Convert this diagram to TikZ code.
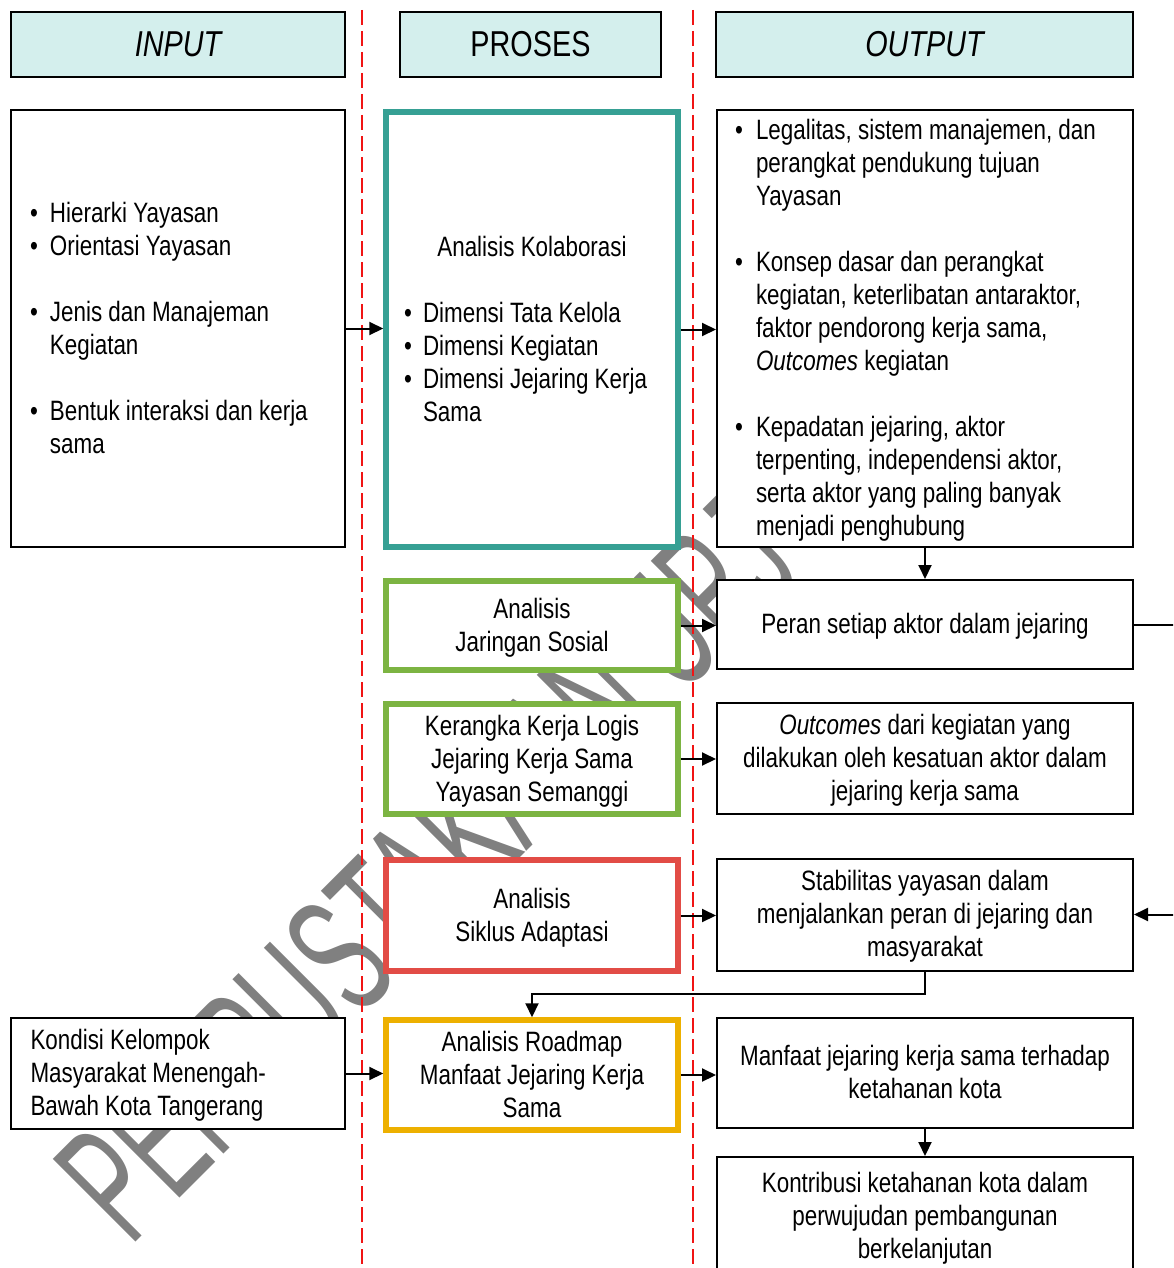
\documentclass[tikz,border=0pt]{standalone}
\usepackage{fontspec}
\setmainfont{Liberation Sans}[FakeStretch=0.8]
\newfontfamily\wmfont{Liberation Sans}[FakeStretch=0.55]
\usepackage{array}
\usetikzlibrary{arrows.meta,calc}
\definecolor{hdrfill}{RGB}{212,239,237}
\definecolor{tealc}{RGB}{54,160,148}
\definecolor{greenc}{RGB}{124,180,66}
\definecolor{redc}{RGB}{226,76,70}
\definecolor{yellowc}{RGB}{237,176,0}
\definecolor{dashred}{RGB}{240,20,20}
\definecolor{wmgray}{RGB}{128,128,128}
\newcommand{\ts}{\rule{0pt}{14.2pt}}
\newcommand{\bu}{\textbullet}
\begin{document}
\begin{tikzpicture}[x=0.5pt, y=-0.5pt,
  font=\fontsize{14}{16.5}\selectfont,
  box/.style={draw=black, line width=1pt, fill=white, inner sep=0pt, align=center},
  hdr/.style={draw=black, line width=1pt, fill=hdrfill, inner sep=0pt, minimum height=32.5pt, font=\fontsize{18}{21}\selectfont},
  pbox/.style={line width=2.75pt, fill=white, inner sep=0pt, minimum width=146pt, align=center},
  arr/.style={line width=1pt, -{Triangle[length=7pt,width=6.5pt]}},
  divider/.style={draw=dashred, line width=1pt, dash pattern=on 7.5pt off 3pt},
  wm/.style={anchor=base, rotate=45, inner sep=0pt, text=wmgray, font=\wmfont\fontsize{85}{85}\selectfont}]
\useasboundingbox (0,0) rectangle (1173,1268);
\clip (0,0) rectangle (1173,1268);

% watermark
\node[wm] (wm) at (468,910) {PERPUSTAKAAN UPJ};

% dividers
\draw[divider] (362,10) -- (362,1280);
\draw[divider] (693,10) -- (693,1280);

% headers
\node[hdr, minimum width=167pt] (hin) at (178,44.5) {\itshape INPUT};
\node[hdr, minimum width=130.5pt] (hpr) at (530.5,44.5) {PROSES};
\node[hdr, minimum width=208.5pt] (hout) at (924.5,44.5) {\itshape OUTPUT};

% row 1
\node[box, minimum width=167pt, minimum height=218.5pt] (in1) at (178,328.5) {%
\begin{tabular}{@{}p{10pt}@{}p{138pt}@{}}
\ts\bu & Hierarki Yayasan\\
\bu & Orientasi Yayasan\\
 & \\
\bu & Jenis dan Manajeman\\
 & Kegiatan\\
 & \\
\bu & Bentuk interaksi dan kerja\\
 & sama
\end{tabular}};

\node[pbox, draw=tealc, minimum height=217.5pt] (teal) at (532,329.5) {%
\begin{tabular}{@{}p{9.5pt}@{}p{118.5pt}@{}}
\multicolumn{2}{@{}c@{}}{\ts Analisis Kolaborasi}\\
 & \\
\bu & Dimensi Tata Kelola\\
\bu & Dimensi Kegiatan\\
\bu & Dimensi Jejaring Kerja\\
 & Sama
\end{tabular}};

\node[box, minimum width=208pt, minimum height=218.5pt] (out1) at (925,328.5) {%
\begin{tabular}{@{}p{10.5pt}@{}p{179.5pt}@{}}
\ts\bu & Legalitas, sistem manajemen, dan\\
 & perangkat pendukung tujuan\\
 & Yayasan\\
 & \\
\bu & Konsep dasar dan perangkat\\
 & kegiatan, keterlibatan antaraktor,\\
 & faktor pendorong kerja sama,\\
 & \textit{Outcomes} kegiatan\\
 & \\
\bu & Kepadatan jejaring, aktor\\
 & terpenting, independensi aktor,\\
 & serta aktor yang paling banyak\\
 & menjadi penghubung
\end{tabular}};

% row 2
\node[pbox, draw=greenc, minimum height=44.5pt] (g1) at (532,625.5) {%
\begin{tabular}{@{}c@{}}\ts Analisis\\ Jaringan Sosial\end{tabular}};
\node[box, minimum width=208pt, minimum height=44.5pt] (peran) at (925,624.5) {%
\begin{tabular}{@{}c@{}}\ts Peran setiap aktor dalam jejaring\end{tabular}};

% row 3
\node[pbox, draw=greenc, minimum height=55pt] (g2) at (532,759) {%
\begin{tabular}{@{}c@{}}\ts Kerangka Kerja Logis\\ Jejaring Kerja Sama\\ Yayasan Semanggi\end{tabular}};
\node[box, minimum width=208pt, minimum height=55.5pt] (outc) at (925,758.5) {%
\begin{tabular}{@{}c@{}}\ts\textit{Outcomes} dari kegiatan yang\\ dilakukan oleh kesatuan aktor dalam\\ jejaring kerja sama\end{tabular}};

% row 4
\node[pbox, draw=redc, minimum height=55.5pt] (red) at (532,915.5) {%
\begin{tabular}{@{}c@{}}\ts Analisis\\ Siklus Adaptasi\end{tabular}};
\node[box, minimum width=208pt, minimum height=56pt] (stab) at (925,914.5) {%
\begin{tabular}{@{}c@{}}\ts Stabilitas yayasan dalam\\ menjalankan peran di jejaring dan\\ masyarakat\end{tabular}};

% row 5
\node[box, minimum width=167pt, minimum height=55.5pt] (kond) at (178,1073.5) {%
\begin{tabular}{@{}p{147.5pt}@{}}\ts Kondisi Kelompok\\ Masyarakat Menengah-\\ Bawah Kota Tangerang\end{tabular}};
\node[pbox, draw=yellowc, minimum height=55pt] (yel) at (532,1075) {%
\begin{tabular}{@{}c@{}}\ts Analisis Roadmap\\ Manfaat Jejaring Kerja\\ Sama\end{tabular}};
\node[box, minimum width=208pt, minimum height=55pt] (manf) at (925,1073) {%
\begin{tabular}{@{}c@{}}\ts Manfaat jejaring kerja sama terhadap\\ ketahanan kota\end{tabular}};

% row 6
\node[box, minimum width=208pt, minimum height=59pt] (kontr) at (925,1216) {%
\begin{tabular}{@{}c@{}}\ts Kontribusi ketahanan kota dalam\\ perwujudan pembangunan\\ berkelanjutan\end{tabular}};

% connectors
\draw[arr] (in1.east) -- (in1.east -| teal.west);
\draw[arr] (teal.east) -- (teal.east -| out1.west);
\draw[arr] (g1.east) -- (g1.east -| peran.west);
\draw[arr] (g2.east) -- (g2.east -| outc.west);
\draw[arr] (red.east) -- (red.east -| stab.west);
\draw[arr] (kond.east) -- (kond.east -| yel.west);
\draw[arr] (yel.east) -- (yel.east -| manf.west);
\draw[arr] (out1.south) -- (peran.north);
\draw[arr] (manf.south) -- (kontr.north);
\coordinate (mid) at ($(stab.south)!0.5!(yel.north)$);
\draw[arr] (stab.south) |- (mid) -| (yel.north);
\draw[arr] (peran.east) -- ++(60,0) |- (stab.east);
\end{tikzpicture}
\end{document}
